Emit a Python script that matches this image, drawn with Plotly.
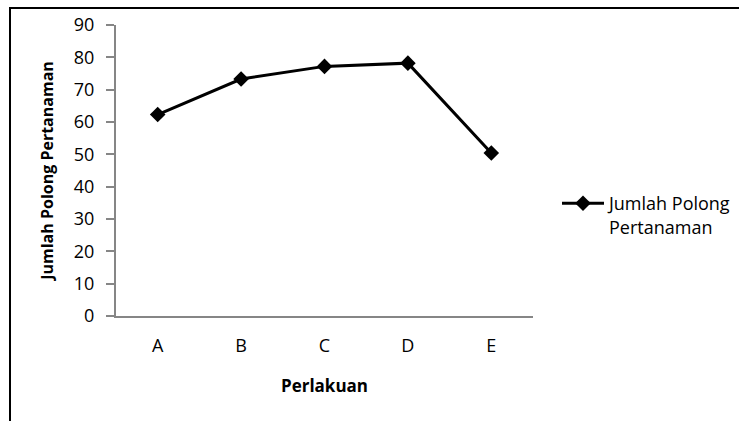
import plotly.graph_objects as go

# Treatments and pod counts per planting
perlakuan = ["A", "B", "C", "D", "E"]
jumlah_polong = [62.3, 73.3, 77.2, 78.2, 50.4]
y_ticks = [0, 10, 20, 30, 40, 50, 60, 70, 80, 90]

W, H = 739, 421
L, R, T, B = 116, 206, 25, 105
FONT = "Open Sans"

fig = go.Figure()
fig.add_trace(go.Scatter(
    x=perlakuan,
    y=jumlah_polong,
    mode="lines+markers",
    name="Jumlah Polong<br>Pertanaman",
    line=dict(color="black", width=3),
    marker=dict(symbol="diamond", size=12, color="black"),
))

pw = W - L - R
ph = H - T - B

def px_x(p):
    return (p - L) / pw

def px_y(p):
    return (H - B - p) / ph

fig.update_layout(
    width=W,
    height=H,
    margin=dict(l=L, r=R, t=T, b=B, autoexpand=False),
    paper_bgcolor="white",
    plot_bgcolor="white",
    font=dict(family=FONT, size=17, color="black"),
    showlegend=True,
    legend=dict(
        x=px_x(557), y=px_y(185), xanchor="left", yanchor="top",
        font=dict(family=FONT, size=18, color="black"),
        bgcolor="rgba(0,0,0,0)",
        itemwidth=42,
        valign="top",
        tracegroupgap=0,
    ),
    xaxis=dict(
        type="category",
        range=[-0.5, 4.5],
        showline=True, linecolor="#868686", linewidth=2,
        showgrid=False, zeroline=False,
        ticks="", ticklabelstandoff=12,
        tickfont=dict(family=FONT, size=18),
        title=dict(text="<b>Perlakuan</b>", font=dict(family=FONT, size=17), standoff=25),
    ),
    yaxis=dict(
        range=[0, 90],
        tickvals=y_ticks,
        showline=True, linecolor="#868686", linewidth=2,
        showgrid=False, zeroline=False,
        ticks="outside", ticklen=8, tickcolor="#868686", tickwidth=2,
        ticklabelstandoff=8,
        tickfont=dict(family=FONT, size=18),
        title=dict(text="<b>Jumlah Polong Pertanaman</b>", font=dict(family=FONT, size=16), standoff=16),
    ),
    shapes=[
        # frame edges around the chart
        dict(type="line", xref="paper", yref="paper",
             x0=px_x(9), x1=px_x(W + 5), y0=px_y(8), y1=px_y(8),
             line=dict(color="black", width=2)),
        dict(type="line", xref="paper", yref="paper",
             x0=px_x(10), x1=px_x(10), y0=px_y(7), y1=px_y(H + 5),
             line=dict(color="black", width=2)),
    ],
)

fig.write_html("out.html")
